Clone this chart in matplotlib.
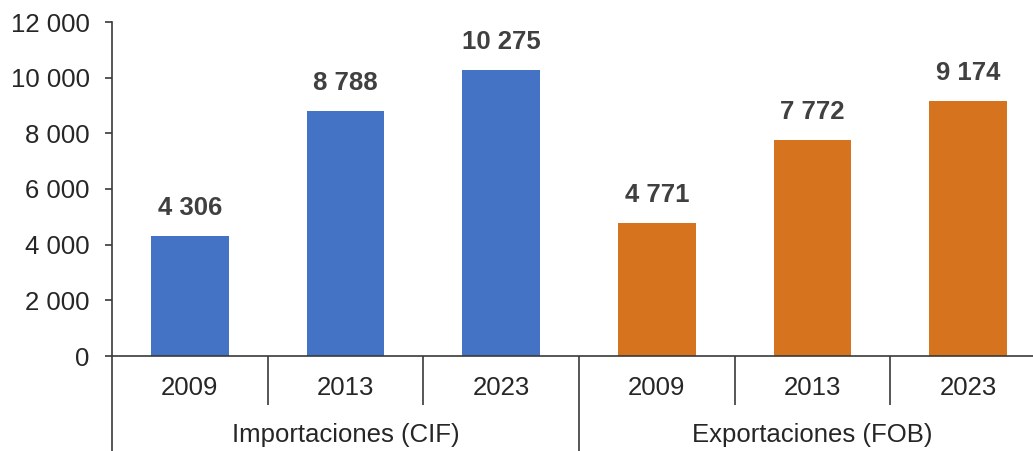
import matplotlib.pyplot as plt
from matplotlib.ticker import FuncFormatter
import matplotlib.transforms as mtransforms

# --- Data ---
groups = ["Importaciones (CIF)", "Exportaciones (FOB)"]
years = ["2009", "2013", "2023"]
imports_cif = [4306, 8788, 10275]
exports_fob = [4771, 7772, 9174]

blue = "#4472C4"
orange = "#D5731F"
axis_col = "#3a3a3a"
text_col = "#262626"
fs = 18.5

plt.rcParams["font.family"] = ["Liberation Sans", "DejaVu Sans"]

fig = plt.figure(figsize=(10.33, 4.51), dpi=100)
# axes placed in pixel terms: x 112..1046, y 22..356 (from top)
ax = fig.add_axes([112 / 1033, (451 - 356) / 451, (1046 - 112) / 1033, (356 - 22) / 451])

values = imports_cif + exports_fob
colors = [blue] * len(imports_cif) + [orange] * len(exports_fob)
xpos = list(range(len(values)))

bars = ax.bar(xpos, values, width=0.5, color=colors, zorder=2)

for b, v in zip(bars, values):
    ax.annotate(f"{v:,}".replace(",", " "),
                (b.get_x() + b.get_width() / 2, v),
                xytext=(0, 28), textcoords="offset pixels",
                ha="center", va="center", fontsize=fs, fontweight="bold",
                color="#404040")

ax.set_xlim(-0.5, len(values) - 0.5)
ax.set_ylim(0, 12000)
ax.set_yticks(range(0, 12001, 2000))
ax.yaxis.set_major_formatter(FuncFormatter(lambda v, p: f"{int(v):,}".replace(",", " ")))
ax.tick_params(axis="y", labelsize=fs, labelcolor=text_col, color=axis_col,
               length=5, width=1.2, pad=11)
ax.set_xticks([])

for s in ["top", "right"]:
    ax.spines[s].set_visible(False)
for s in ["left", "bottom"]:
    ax.spines[s].set_color(axis_col)
    ax.spines[s].set_linewidth(1.2)

# --- multi-level category axis ---
trans = mtransforms.blended_transform_factory(ax.transData, ax.transAxes)
n = len(years)
for gi, g in enumerate(groups):
    for yi, yr in enumerate(years):
        ax.text(gi * n + yi, -0.096, yr, transform=trans, ha="center", va="center",
                fontsize=fs, color=text_col)
    ax.text(gi * n + (n - 1) / 2, -0.237, g, transform=trans, ha="center", va="center",
            fontsize=fs, color=text_col)

for i in range(len(values) + 1):
    xb = i - 0.5
    ybot = -0.284 if i % n == 0 else -0.147
    ax.plot([xb, xb], [0, ybot], transform=trans, color=axis_col, lw=1.2,
            clip_on=False, solid_capstyle="butt")

fig.savefig("out.png", dpi=100)
